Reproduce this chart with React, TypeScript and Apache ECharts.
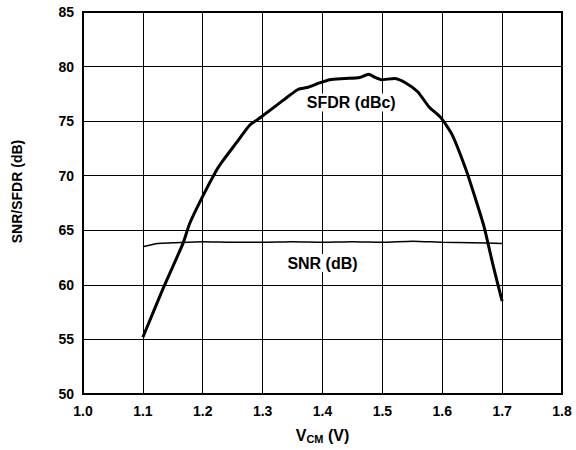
import React, { useEffect, useRef } from "react";
import * as echarts from "echarts";

const xTicks = ["1.0", "1.1", "1.2", "1.3", "1.4", "1.5", "1.6", "1.7", "1.8"];
const yTicks = [50, 55, 60, 65, 70, 75, 80, 85];

const sfdrX = [1.1, 1.134, 1.167, 1.178, 1.198, 1.223, 1.234, 1.256, 1.278, 1.298, 1.334, 1.359, 1.376, 1.395, 1.412, 1.437, 1.462, 1.477, 1.488, 1.498, 1.52, 1.539, 1.559, 1.578, 1.598, 1.617, 1.64, 1.656, 1.67, 1.684, 1.7];
const sfdrY = [55.2, 59.7, 63.8, 65.6, 67.9, 70.5, 71.4, 73.0, 74.6, 75.4, 76.9, 77.9, 78.1, 78.5, 78.8, 78.9, 79.0, 79.3, 79.0, 78.8, 78.9, 78.5, 77.7, 76.3, 75.3, 73.7, 70.5, 67.8, 65.3, 62.0, 58.5];

const snrX = [1.1, 1.125, 1.15, 1.2, 1.25, 1.3, 1.35, 1.4, 1.45, 1.5, 1.55, 1.6, 1.65, 1.7];
const snrY = [63.5, 63.8, 63.85, 63.95, 63.9, 63.9, 63.95, 63.9, 63.95, 63.9, 64.0, 63.9, 63.85, 63.8];

const sfdrLabel = { x: 1.448, y: 76.7, text: "SFDR (dBc)" };
const snrLabel = { x: 1.4, y: 62.0, text: "SNR (dB)" };
const yTitle = "SNR/SFDR (dB)";

const FONT = "'Liberation Sans', Arial, sans-serif";

export default function App() {
  const ref = useRef<HTMLDivElement>(null);
  useEffect(() => {
    if (!ref.current) return;
    document.body.style.margin = "0";
    const chart = echarts.init(ref.current, undefined, { renderer: "svg" });
    const labelStyle = {
      show: true,
      position: "inside",
      color: "#000",
      fontFamily: FONT,
      fontWeight: "bold",
      fontSize: 16,
      backgroundColor: "#fff",
      padding: [1, 3],
    };
    chart.setOption({
      animation: false,
      backgroundColor: "#fff",
      grid: {
        left: 83,
        right: 14,
        top: 12,
        bottom: 56,
        show: true,
        borderColor: "#000",
        borderWidth: 2,
        backgroundColor: "transparent",
      },
      graphic: [
        {
          type: "text",
          x: 16.5,
          y: 191.5,
          rotation: Math.PI / 2,
          style: {
            text: yTitle,
            fill: "#000",
            font: `bold 14px ${FONT}`,
            align: "center",
            verticalAlign: "middle",
          },
        },
      ],
      xAxis: {
        type: "value",
        min: 1.0,
        max: 1.8,
        interval: 0.1,
        name: "{a|V}{b|CM}{a| (V)}",
        nameLocation: "middle",
        nameGap: 33,
        nameTextStyle: {
          rich: {
            a: { fontFamily: FONT, fontWeight: "bold", fontSize: 16, color: "#000" },
            b: { fontFamily: FONT, fontWeight: "bold", fontSize: 11, color: "#000", verticalAlign: "bottom", padding: [6, 0, 0, 0] },
          },
        },
        axisLine: { show: true, lineStyle: { color: "#000", width: 2 } },
        axisTick: { show: false },
        splitLine: { show: true, lineStyle: { color: "#000", width: 1 } },
        axisLabel: {
          color: "#000",
          fontFamily: FONT,
          fontWeight: "bold",
          fontSize: 14,
          margin: 10,
          formatter: (v: number) => xTicks[Math.round((v - 1.0) * 10)] ?? v.toFixed(1),
        },
      },
      yAxis: {
        type: "value",
        min: 50,
        max: 85,
        interval: 5,
        axisLine: { show: true, lineStyle: { color: "#000", width: 2 } },
        axisTick: { show: false },
        splitLine: { show: true, lineStyle: { color: "#000", width: 1 } },
        axisLabel: {
          color: "#000",
          fontFamily: FONT,
          fontWeight: "bold",
          fontSize: 14,
          margin: 9,
          formatter: (v: number) => (yTicks.includes(v) ? String(v) : ""),
        },
      },
      series: [
        {
          name: "SFDR",
          type: "line",
          data: sfdrX.map((x, i) => [x, sfdrY[i]]),
          showSymbol: false,
          smooth: 0.2,
          lineStyle: { color: "#000", width: 3 },
          z: 3,
          markPoint: {
            symbol: "rect",
            symbolSize: 0,
            data: [{ coord: [sfdrLabel.x, sfdrLabel.y], value: sfdrLabel.text }],
            label: { ...labelStyle, formatter: sfdrLabel.text },
          },
        },
        {
          name: "SNR",
          type: "line",
          data: snrX.map((x, i) => [x, snrY[i]]),
          showSymbol: false,
          smooth: 0.2,
          lineStyle: { color: "#000", width: 1.5 },
          z: 3,
          markPoint: {
            symbol: "rect",
            symbolSize: 0,
            data: [{ coord: [snrLabel.x, snrLabel.y], value: snrLabel.text }],
            label: { ...labelStyle, formatter: snrLabel.text },
          },
        },
      ],
    });
    return () => chart.dispose();
  }, []);
  return <div ref={ref} style={{ width: 576, height: 450 }} />;
}
